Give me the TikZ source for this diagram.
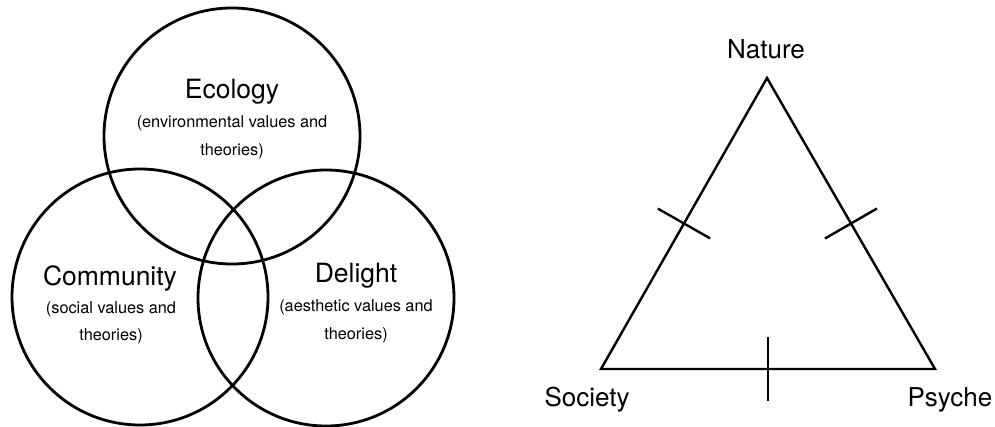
\documentclass[tikz,border=0pt]{standalone}
\usepackage{fontspec}
\setmainfont{TeX Gyre Heros}
\usetikzlibrary{calc}
\begin{document}
\begin{tikzpicture}[x=1pt,y=-1pt,
  venn/.style={circle,draw,line width=2.8pt,minimum size=256pt,inner sep=0pt},
  title/.style={anchor=base,font=\fontsize{26.5}{30}\selectfont,inner sep=0pt},
  sub/.style={anchor=base,font=\fontsize{16.3}{20}\selectfont,inner sep=0pt},
  corner/.style={anchor=base,font=\fontsize{26}{30}\selectfont,inner sep=0pt},
  side/.style={line width=2.4pt,line join=miter},
  tick/.style={line width=2.4pt}]
\useasboundingbox (0,0) rectangle (995,427);
% Venn circles
\node[venn] (eco) at (232,136) {};
\node[venn] (com) at (140,297) {};
\node[venn] (del) at (326,298) {};
% Venn labels
\node[title] (ecot) at (232,99) {Ecology};
\node[sub] (ecos1) at (232,128) {(environmental values and};
\node[sub] (ecos2) at (232,155.5) {theories)};
\node[title] (comt) at (110,286) {Community};
\node[sub] (coms1) at (111,314) {(social values and};
\node[sub] (coms2) at (111,341) {theories)};
\node[title] (delt) at (356,283) {Delight};
\node[sub] (dels1) at (356,312) {(aesthetic values and};
\node[sub] (dels2) at (356,339) {theories)};
% Triangle
\coordinate (N) at (767,78);
\coordinate (S) at (601,369);
\coordinate (P) at (935,369);
\draw[side] (N) -- (S) -- (P) -- cycle;
\coordinate (mNS) at ($(N)!0.5!(S)$);
\coordinate (mNP) at ($(N)!0.5!(P)$);
\coordinate (mSP) at ($(S)!0.5!(P)$);
\draw[tick] ($(mNS)!30pt!90:(S)$) -- ($(mNS)!30pt!-90:(S)$);
\draw[tick] ($(mNP)!30pt!90:(P)$) -- ($(mNP)!30pt!-90:(P)$);
\draw[tick] ($(mSP)!32pt!90:(P)$) -- ($(mSP)!32pt!-90:(P)$);
% Triangle labels
\node[corner] (nat) at (766,59) {Nature};
\node[corner] (soc) at (587,406) {Society};
\node[corner] (psy) at (950,406) {Psyche};
\end{tikzpicture}
\end{document}
